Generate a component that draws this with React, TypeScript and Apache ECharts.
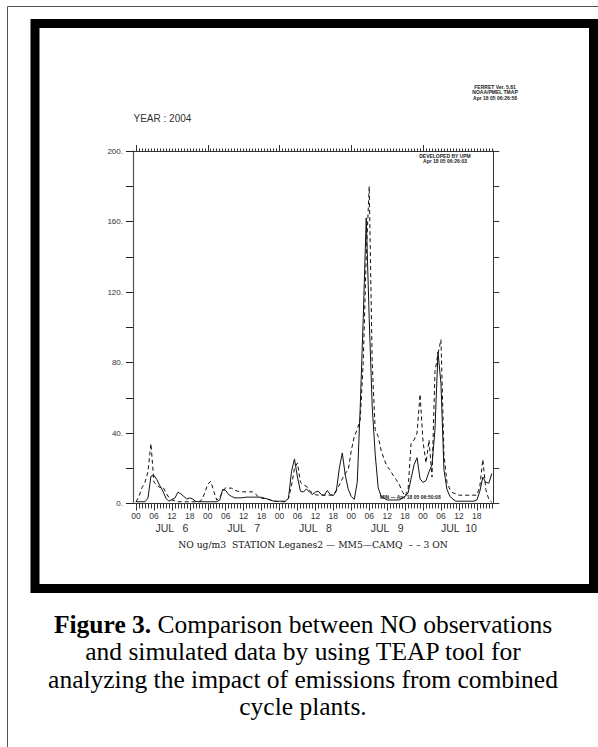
import React, { useEffect, useRef } from 'react';
import * as echarts from 'echarts';

// Hourly values, hours 0..119 starting JUL 6 00h (2004)
const mm5Camq = [
  1, 1, 1, 1, 3, 15.5, 16, 13.5, 10, 7,
  3, 1.3, 2.3, 3, 6.4, 5.5, 4, 2.5, 3.2, 2.5,
  1.2, 1, 1, 1, 1, 1, 1, 1, 2, 8,
  7.4, 5, 4, 3.2, 3.2, 3.2, 3.4, 3.6, 3.6, 3.6,
  3.6, 3.6, 3.5, 3, 2.5, 2, 1.3, 1.3, 1.3, 1.3,
  1.3, 3, 18, 25.3, 15, 7, 6.5, 8.3, 6.5, 5.1,
  6.5, 7, 5, 4.7, 7.4, 5, 4.5, 7, 20, 28.7,
  16, 8, 4, 2.3, 12, 55, 105, 162, 105, 55,
  28, 9, 4, 3, 2, 2, 2, 2, 2, 3,
  4, 6, 14, 22, 26, 14, 12, 13, 18, 22,
  42, 86, 68, 19, 8, 4, 2.5, 1.3, 1.3, 1.3,
  1.3, 1.3, 1.3, 1.3, 2, 7, 15, 12, 11.5, 17,
];

const threeOn = [
  1, 4, 9, 12, 18, 34, 12, 10.5, 9, 9.5,
  6, 3.5, 2, 1.5, 1, 1, 1, 1, 1, 1,
  1, 1, 2, 6, 11, 12.6, 7, 2, 3.5, 6.5,
  9, 8.7, 8.7, 7.5, 7, 6.8, 6.6, 6.6, 6.6, 6.6,
  5.5, 3.5, 3, 2.8, 2.5, 2, 1.5, 1.2, 1, 1,
  1, 3, 10, 20, 23, 12, 10.5, 9.8, 7.5, 6,
  5, 4.7, 4.7, 4.7, 4.7, 4.7, 5, 7.5, 10.5, 14,
  17, 19.3, 30, 38, 42, 47.6, 80, 140, 180, 80,
  42, 38, 30, 25, 21, 19, 16, 13.6, 11, 7,
  4.2, 8, 34, 36, 40, 62, 35, 23, 36, 15,
  75, 85, 93, 28, 12, 8, 6, 5.5, 4.7, 4.7,
  4.7, 4.7, 4.7, 4.7, 4.7, 9.8, 25, 8, 2.3, 0.8,
];

const hourTicks = Array.from({ length: 120 }, (_, i) => i);
const hourLabelValues = [0, 6, 12, 18, 24, 30, 36, 42, 48, 54, 60, 66, 72, 78, 84, 90, 96, 102, 108, 114];
const dayMajorValues = [0, 24, 48, 72, 96];
const dayLabelValues = [12, 36, 60, 84, 108];
const dayLabels = ['JUL   6', 'JUL   7', 'JUL   8', 'JUL   9', 'JUL  10'];

const captionLines = [
  '{b|Figure 3.} Comparison between NO observations',
  'and simulated data by using TEAP tool for',
  'analyzing the impact of emissions from combined',
  'cycle plants.',
];

const SANS = '"Liberation Sans", Arial, sans-serif';
const SERIF = '"Liberation Serif", "Times New Roman", serif';

export default function App() {
  const ref = useRef<HTMLDivElement>(null);
  useEffect(() => {
    if (!ref.current) return;
    const chart = echarts.init(ref.current, undefined, { renderer: 'svg', width: 598, height: 747 });
    const xBase = { type: 'value', min: -1, max: 119.5, gridIndex: 0, splitLine: { show: false } } as any;
    const capFont = 25.5;
    const capY0 = 624;
    const capStep = 27.5;
    const option: any = {
      animation: false,
      backgroundColor: '#ffffff',
      grid: { left: 133, right: 104.7, top: 151, bottom: 243.5, containLabel: false, outerBoundsMode: 'none' },
      xAxis: [
        {
          ...xBase,
          position: 'bottom',
          axisLine: { show: true, onZero: false, lineStyle: { color: '#333', width: 1 } },
          axisTick: { show: true, customValues: hourTicks, length: 5, inside: false, lineStyle: { color: '#333', width: 1 } },
          axisLabel: {
            show: true,
            customValues: hourLabelValues,
            margin: 8,
            fontSize: 8.5,
            fontFamily: SANS,
            color: '#333',
            formatter: (v: number) => String(v % 24).padStart(2, '0'),
          },
        },
        {
          ...xBase,
          position: 'bottom',
          axisLine: { show: false, onZero: false },
          axisTick: { show: true, customValues: hourLabelValues, length: 7, inside: false, lineStyle: { color: '#333', width: 1 } },
          axisLabel: {
            show: true,
            customValues: dayLabelValues,
            margin: 19,
            fontSize: 10.5,
            fontFamily: SANS,
            color: '#333',
            formatter: (v: number) => dayLabels[Math.round((v - 12) / 24)],
          },
        },
        {
          ...xBase,
          position: 'top',
          axisLine: { show: true, onZero: false, lineStyle: { color: '#333', width: 1 } },
          axisTick: { show: true, customValues: hourTicks, length: 2.5, inside: false, lineStyle: { color: '#333', width: 1 } },
          axisLabel: { show: false },
        },
        {
          ...xBase,
          position: 'top',
          axisLine: { show: false, onZero: false },
          axisTick: { show: true, customValues: dayMajorValues, length: 6, inside: false, lineStyle: { color: '#333', width: 1 } },
          axisLabel: { show: false },
        },
      ],
      yAxis: [
        {
          type: 'value',
          position: 'left',
          min: 0,
          max: 200,
          interval: 20,
          splitLine: { show: false },
          axisLine: { show: true, onZero: false, lineStyle: { color: '#555', width: 1.2 } },
          axisTick: { show: true, length: 7, inside: false, lineStyle: { color: '#222', width: 1 } },
          axisLabel: {
            show: true,
            margin: 10,
            fontSize: 8,
            fontFamily: SANS,
            color: '#333',
            formatter: (v: number) => (v % 40 === 0 ? v + '.' : ''),
          },
        },
        {
          type: 'value',
          position: 'right',
          min: 0,
          max: 200,
          interval: 20,
          splitLine: { show: false },
          axisLine: { show: true, onZero: false, lineStyle: { color: '#333', width: 1 } },
          axisTick: { show: true, length: 6, inside: false, lineStyle: { color: '#333', width: 1 } },
          axisLabel: { show: false },
        },
      ],
      series: [
        {
          name: 'MM5-CAMQ',
          type: 'line',
          xAxisIndex: 0,
          yAxisIndex: 0,
          showSymbol: false,
          symbol: 'none',
          lineStyle: { color: '#111', width: 1, type: 'solid' },
          data: mm5Camq.map((v, i) => [hourTicks[i], v]),
        },
        {
          name: '3 ON',
          type: 'line',
          xAxisIndex: 0,
          yAxisIndex: 0,
          showSymbol: false,
          symbol: 'none',
          lineStyle: { color: '#111', width: 1, type: [4, 3] },
          data: threeOn.map((v, i) => [hourTicks[i], v]),
        },
      ],
      graphic: [
        {
          type: 'rect',
          silent: true,
          shape: { x: 7.5, y: 6.5, width: 700, height: 800 },
          style: { fill: 'none', stroke: '#555', lineWidth: 1 },
        },
        {
          type: 'rect',
          silent: true,
          shape: { x: 35, y: 23.5, width: 558.5, height: 565 },
          style: { fill: 'none', stroke: '#000', lineWidth: 9 },
        },
        {
          type: 'text',
          x: 133.5,
          y: 118,
          style: { text: 'YEAR : 2004', fontSize: 10, fontFamily: SANS, fill: '#333', verticalAlign: 'middle' },
        },
        {
          type: 'text',
          x: 495,
          y: 92,
          style: {
            text: 'FERRET Ver. 5.81\nNOAA/PMEL TMAP\nApr 18 05 06:26:58',
            fontSize: 5,
            lineHeight: 5.5,
            fontWeight: 'bold',
            fontFamily: SANS,
            fill: '#222',
            align: 'center',
            verticalAlign: 'middle',
          },
        },
        {
          type: 'text',
          x: 445,
          y: 158.5,
          style: {
            text: 'DEVELOPED BY UPM\nApr 18 05 06:26:03',
            fontSize: 5,
            lineHeight: 5.5,
            fontWeight: 'bold',
            fontFamily: SANS,
            fill: '#222',
            align: 'center',
            verticalAlign: 'middle',
          },
        },
        {
          type: 'text',
          x: 380,
          y: 497,
          style: {
            text: 'MIN \u2014 Apr 18 05 06:50:08',
            fontSize: 5,
            fontWeight: 'bold',
            fontFamily: SANS,
            fill: '#222',
            verticalAlign: 'middle',
          },
        },
        {
          type: 'text',
          x: 313,
          y: 544,
          style: {
            text: 'NO ug/m3  STATION Leganes2 \u2014 MM5\u2014CAMQ  \u2013 \u2013 3 ON',
            fontSize: 9.2,
            fontFamily: '"DejaVu Serif", serif',
            fill: '#111',
            align: 'center',
            verticalAlign: 'middle',
          },
        },
        ...captionLines.map((t, i) => ({
          type: 'text',
          x: 303,
          y: capY0 + i * capStep,
          style: {
            text: t,
            fontSize: capFont,
            fontFamily: SERIF,
            fill: '#000',
            align: 'center',
            verticalAlign: 'middle',
            rich: {
              b: { fontSize: capFont, fontFamily: SERIF, fontWeight: 'bold', fill: '#000' },
            },
          },
        })),
      ],
    };
    chart.setOption(option);
    return () => chart.dispose();
  }, []);
  return (
    <div
      ref={ref}
      style={{ position: 'fixed', left: 0, top: 0, width: 598, height: 747, background: '#fff' }}
    />
  );
}
